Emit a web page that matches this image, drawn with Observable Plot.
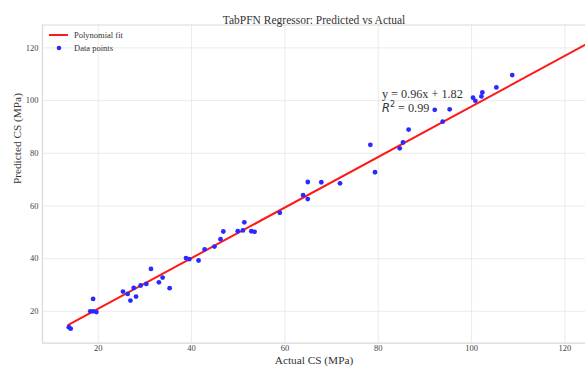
<!DOCTYPE html>
<html>
<head>
<meta charset="utf-8">
<script src="https://cdn.jsdelivr.net/npm/d3@7"></script>
<script src="https://cdn.jsdelivr.net/npm/@observablehq/plot@0.6"></script>
<style>
  html, body { margin: 0; padding: 0; background: #fff; }
  svg { display: block; }
</style>
</head>
<body>
<div id="chart"></div>
<script>
const actual = [13.7, 14.1, 18.9, 18.3, 18.9, 19.6, 25.3, 26.3, 26.9, 27.6, 28.1, 29.1, 30.3, 31.3, 33.0, 33.8, 35.3,
  38.8, 39.5, 41.5, 42.8, 44.9, 46.2, 46.8, 49.9, 51.0, 51.3, 52.8, 53.5, 58.9, 63.9, 64.9, 64.9, 67.8, 71.8, 79.3,
  78.3, 84.6, 85.3, 86.5, 92.1, 93.8, 95.3, 100.3, 100.8, 102.1, 102.3, 105.3, 108.7];
const predicted = [14.0, 13.4, 24.7, 20.0, 20.0, 19.7, 27.5, 26.6, 24.1, 28.9, 25.6, 29.8, 30.4, 36.1, 31.0, 32.8, 28.8,
  40.2, 39.8, 39.3, 43.5, 44.6, 47.4, 50.3, 50.4, 50.7, 53.8, 50.4, 50.2, 57.4, 64.1, 69.1, 62.6, 69.0, 68.6, 72.8,
  83.2, 81.9, 84.1, 89.0, 96.5, 92.0, 96.7, 101.1, 99.9, 101.6, 103.1, 105.0, 109.7];
const fitSlope = 0.96;
const fitIntercept = 1.82;
const fitRange = [13.6, 130];
const xTicks = [20, 40, 60, 80, 100, 120];
const yTicks = [20, 40, 60, 80, 100, 120];
const xDomain = [8.06, 124.4];
const yDomain = [7.9, 128.7];
const titleText = "TabPFN Regressor: Predicted vs Actual";
const xLabel = "Actual CS (MPa)";
const yLabel = "Predicted CS (MPa)";
const legendLabels = ["Polynomial fit", "Data points"];
const eqText = "y = 0.96x + 1.82";
const r2Value = "0.99";
const eqPos = [80.9, 102.3];

const points = actual.map((a, i) => ({actual: a, predicted: predicted[i]}));
const fitLine = fitRange.map(x => ({x, y: fitSlope * x + fitIntercept}));

const serif = "'Liberation Serif', 'Times New Roman', serif";

function legendMark(index, scales, values, dims) {
  const g = d3.create("svg:g").attr("text-anchor", "start");
  const x0 = dims.marginLeft, y0 = dims.marginTop;
  g.append("line").attr("x1", x0 + 7).attr("x2", x0 + 26).attr("y1", y0 + 10.5).attr("y2", y0 + 10.5)
    .attr("stroke", "#ff1a1a").attr("stroke-width", 2);
  g.append("circle").attr("cx", x0 + 17).attr("cy", y0 + 23.5).attr("r", 2.3).attr("fill", "#2a2aff");
  legendLabels.forEach((t, i) => {
    g.append("text").attr("x", x0 + 32).attr("y", y0 + 10.5 + i * 13).attr("dy", "0.35em")
      .attr("text-anchor", "start")
      .attr("font-family", serif).attr("font-size", 8.5).attr("fill", "#333").text(t);
  });
  return g.node();
}

function eqMark(index, scales) {
  const g = d3.create("svg:g").attr("text-anchor", "start");
  const px = scales.x(eqPos[0]), py = scales.y(eqPos[1]);
  g.append("text").attr("x", px).attr("y", py).attr("dy", "0.35em").attr("text-anchor", "start")
    .attr("font-family", serif).attr("font-size", 12.2).attr("fill", "#333").text(eqText);
  const t = g.append("text").attr("x", px).attr("y", py + 14).attr("dy", "0.35em").attr("text-anchor", "start")
    .attr("font-size", 12.2).attr("fill", "#333");
  t.append("tspan").attr("font-family", "'DejaVu Sans', sans-serif").attr("font-style", "italic").attr("font-size", 11.5).text("R");
  t.append("tspan").attr("font-family", "'DejaVu Sans', sans-serif").attr("font-size", 8).attr("dy", "-5").text("2");
  t.append("tspan").attr("font-family", serif).attr("dy", "5").text(" = " + r2Value);
  return g.node();
}

const chart = Plot.plot({
  width: 585,
  height: 369,
  marginLeft: 42,
  marginRight: 0,
  marginTop: 24.5,
  marginBottom: 26.3,
  style: {fontFamily: serif, background: "#fff"},
  x: {domain: xDomain, ticks: xTicks, label: null},
  y: {domain: yDomain, ticks: yTicks, label: null},
  marks: [
    Plot.gridX(xTicks, {stroke: "#e6e6e6", strokeOpacity: 1, strokeWidth: 0.8}),
    Plot.gridY(yTicks, {stroke: "#e6e6e6", strokeOpacity: 1, strokeWidth: 0.8}),
    Plot.ruleX([xDomain[0]], {stroke: "#d9d9d9", strokeWidth: 1.2}),
    Plot.ruleY(yDomain, {stroke: "#d9d9d9", strokeWidth: 1.2}),
    Plot.axisX(xTicks, {tickSize: 0, tickPadding: 2, fontSize: 8.5, fill: "#444", label: null}),
    Plot.axisY(yTicks, {tickSize: 0, tickPadding: 4, fontSize: 8.5, fill: "#444", label: null}),
    Plot.line(fitLine, {x: "x", y: "y", stroke: "#ff1a1a", strokeWidth: 2, clip: true}),
    Plot.dot(points, {x: "actual", y: "predicted", r: 2.4, fill: "#2a2aff", stroke: "none"}),
    Plot.text([titleText], {frameAnchor: "top", text: d => d, dy: -9.5, fontSize: 11.5, fill: "#333"}),
    Plot.text([xLabel], {frameAnchor: "bottom", text: d => d, dy: 20.5, fontSize: 11.3, fill: "#333"}),
    Plot.text([yLabel], {frameAnchor: "left", text: d => d, rotate: -90, dx: -25, fontSize: 11.3, fill: "#333"}),
    legendMark,
    eqMark
  ]
});

document.getElementById("chart").append(chart);
</script>
</body>
</html>
